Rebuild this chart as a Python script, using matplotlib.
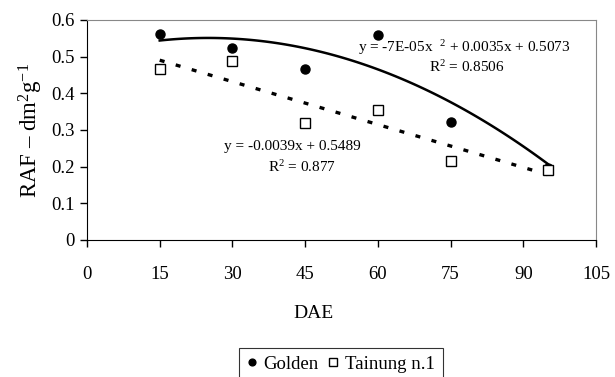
import numpy as np
import matplotlib
matplotlib.use("Agg")
import matplotlib.pyplot as plt

plt.rcParams['font.family'] = ['Liberation Serif', 'DejaVu Serif']
plt.rcParams['mathtext.fontset'] = 'custom'
plt.rcParams['mathtext.rm'] = 'Liberation Serif'
plt.rcParams['mathtext.it'] = 'Liberation Serif:italic'

# observed values
dae = [15, 30, 45, 60, 75, 95]
golden = [0.563, 0.523, 0.467, 0.560, 0.323, 0.197]
tainung = [0.467, 0.487, 0.320, 0.355, 0.215, 0.190]

# trendline coefficients as printed on the chart
golden_poly = [-7e-05, 0.0035, 0.5073]
tainung_poly = [-0.0039, 0.5489]

xticks = [0, 15, 30, 45, 60, 75, 90, 105]
yticks = [0, 0.1, 0.2, 0.3, 0.4, 0.5, 0.6]

fig = plt.figure(figsize=(6.15, 3.77), dpi=100)
ax = fig.add_axes([87 / 615, 1 - 240 / 377, 509 / 615, 220 / 377])

xs = np.linspace(dae[0], dae[-1], 100)
ax.plot(xs, np.polyval(golden_poly, xs), color='black', lw=1.8)
ax.plot(xs, np.polyval(tainung_poly, xs), color='black', lw=2.4,
        linestyle=(0, (1.5, 3.5)))

ax.plot(dae, golden, 'o', color='black', ms=6.5, label='Golden', linestyle='none')
ax.plot(dae, tainung, 's', mfc='white', mec='black', mew=1, ms=7,
        label='Tainung n.1', linestyle='none')

ax.text(77.8, 0.524, 'y = -7E-05x  $^2$ + 0.0035x + 0.5073', ha='center',
        va='center', fontsize=11)
ax.text(78.3, 0.472, 'R$^2$ = 0.8506', ha='center', va='center', fontsize=11)
ax.text(42.3, 0.254, 'y = -0.0039x + 0.5489', ha='center', va='center', fontsize=11)
ax.text(44.3, 0.199, 'R$^2$ = 0.877', ha='center', va='center', fontsize=11)

ax.set_xlim(0, 105)
ax.set_ylim(0, 0.6)
ax.set_xticks(xticks)
ax.set_yticks(yticks)
ax.set_xticklabels([str(t) for t in xticks])
ax.set_yticklabels(['0'] + ['%.1f' % t for t in yticks[1:]])
ax.tick_params(direction='out', length=5, width=1, labelsize=13.5, pad=4)
ax.tick_params(axis='x', pad=14)

for side in ['top', 'right']:
    ax.spines[side].set_color('#888888')
for side in ['left', 'bottom']:
    ax.spines[side].set_color('black')

fig.text(314 / 615, 1 - 313 / 377, 'DAE', ha='center', va='center', fontsize=14)
ax.set_ylabel('RAF – dm$^2$g$^{-1}$', fontsize=16.5, labelpad=4)

leg = fig.legend(loc='upper center', bbox_to_anchor=(341 / 615, 1 - 348 / 377), ncol=2,
                 fontsize=13.5, frameon=True, fancybox=False, edgecolor='black',
                 handlelength=0.5, handletextpad=0.4, columnspacing=0.5,
                 borderpad=0.4, borderaxespad=0, markerscale=0.75)
leg.get_frame().set_linewidth(0.8)

fig.savefig('out.png', dpi=100)
